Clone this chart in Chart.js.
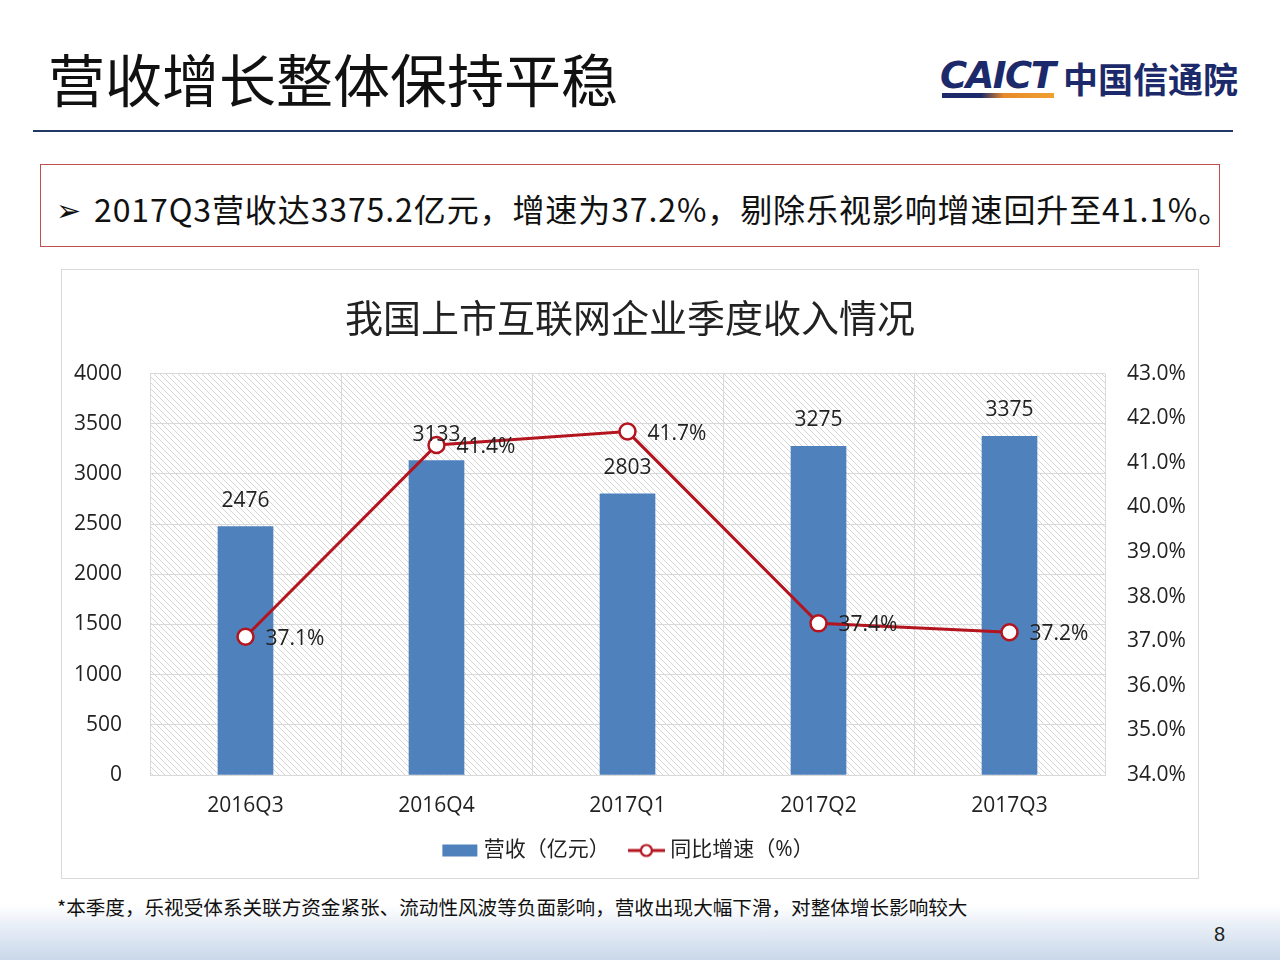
<!DOCTYPE html>
<html><head><meta charset="utf-8">
<script src="https://cdn.jsdelivr.net/npm/chart.js@4"></script>
<style>
html,body{margin:0;padding:0;width:1280px;height:960px;overflow:hidden;background:#fff;font-family:"Noto Sans CJK SC","Noto Sans",sans-serif;}
#page{position:relative;width:1280px;height:960px;background:linear-gradient(to bottom,#fff 0px,#fff 905px,#e9eff7 925px,#c9d8ea 960px);}
.abs{position:absolute;white-space:nowrap;}
#title{left:48px;top:37px;font-size:57px;color:#111;line-height:80px;}
#rule{left:33px;top:130px;width:1200px;height:2px;background:#1F3864;}
#logo1{left:940px;top:54px;font-family:"DejaVu Sans",sans-serif;font-weight:bold;font-style:italic;font-size:37px;color:#1c2a6b;letter-spacing:-1.5px;line-height:44px;}
#logoBar{left:942px;top:93px;width:112px;height:5px;background:linear-gradient(to right,#1c2a6b 0%,#1c2a6b 35%,#e8892a 55%,#f0a030 100%);}
#logo2{left:1063px;top:53px;font-size:35px;font-weight:bold;color:#1c2a6b;line-height:50px;}
#box{left:40px;top:164px;width:1178px;height:81px;border:1.5px solid #c0504d;}
#arrow{left:56px;top:185px;font-size:30px;color:#111;line-height:46px;}
#boxtxt{left:94px;top:185px;font-size:32px;color:#111;line-height:46px;letter-spacing:0.9px;}
#chartWrap{left:61px;top:269px;width:1136px;height:608px;border:1px solid #d9d9d9;}
#note{left:57px;top:893px;font-size:19.6px;color:#111;line-height:28px;}
#pnum{left:1214px;top:920px;font-size:20px;color:#222;line-height:28px;font-family:"Liberation Sans Narrow","Liberation Sans",sans-serif;}
</style></head>
<body><div id="page">
<div class="abs" id="title">营收增长整体保持平稳</div>
<div class="abs" id="logo1">CAICT</div>
<div class="abs" id="logoBar"></div>
<div class="abs" id="logo2">中国信通院</div>
<div class="abs" id="rule"></div>
<div class="abs" id="box"></div>
<div class="abs" id="arrow">➢</div>
<div class="abs" id="boxtxt">2017Q3营收达3375.2亿元，增速为37.2%，剔除乐视影响增速回升至41.1%。</div>
<div class="abs" id="chartWrap"><canvas id="c" width="1136" height="608"></canvas></div>
<div class="abs" id="note">*本季度，乐视受体系关联方资金紧张、流动性风波等负面影响，营收出现大幅下滑，对整体增长影响较大</div>
<div class="abs" id="pnum">8</div>
</div>
<script>
const categories = ["2016Q3","2016Q4","2017Q1","2017Q2","2017Q3"];
const revenue = [2476, 3133, 2803, 3275, 3375];
const growth = [37.1, 41.4, 41.7, 37.4, 37.2];
const revenueLabel = "营收（亿元）";
const growthLabel = "同比增速（%）";
const chartTitle = "我国上市互联网企业季度收入情况";

const BLUE = "#4F81BD", RED = "#B4141E";
const FONT = '"Open Sans","Noto Sans CJK SC",sans-serif';

// hatch pattern
const pc = document.createElement('canvas'); pc.width = 6; pc.height = 6;
const px = pc.getContext('2d');
px.fillStyle = '#fff'; px.fillRect(0,0,6,6);
px.strokeStyle = '#d6d6d6'; px.lineWidth = 1;
px.beginPath(); px.moveTo(-1,-1); px.lineTo(7,7); px.moveTo(-1,5); px.lineTo(1,7); px.moveTo(5,-1); px.lineTo(7,1); px.stroke();

// legend swatches
function swatch(kind){
  const c = document.createElement('canvas'); c.width = 37; c.height = 16;
  const g = c.getContext('2d');
  if (kind === 'bar') { g.fillStyle = BLUE; g.fillRect(1,2,35,12); }
  else {
    g.strokeStyle = RED; g.lineWidth = 3; g.beginPath(); g.moveTo(0,8); g.lineTo(37,8); g.stroke();
    g.fillStyle = '#fff'; g.lineWidth = 2.2; g.beginPath(); g.arc(18.5,8,5.5,0,Math.PI*2); g.fill(); g.stroke();
  }
  return c;
}
const swBar = swatch('bar'), swLine = swatch('line');

const bgPlugin = {
  id: 'bg',
  beforeDraw(chart){
    const {ctx, chartArea:a} = chart;
    ctx.save(); ctx.fillStyle = ctx.createPattern(pc,'repeat');
    ctx.fillRect(a.left,a.top,a.right-a.left,a.bottom-a.top); ctx.restore();
  }
};
const labelPlugin = {
  id: 'vals',
  afterDatasetsDraw(chart){
    const ctx = chart.ctx;
    ctx.save();
    ctx.font = '21px ' + FONT; ctx.fillStyle = '#222'; ctx.textBaseline = 'middle';
    chart.getDatasetMeta(0).data.forEach((el,i)=>{
      ctx.textAlign = 'center';
      ctx.fillText(String(revenue[i]), el.x, el.y - 26);
    });
    chart.getDatasetMeta(1).data.forEach((el,i)=>{
      ctx.textAlign = 'left';
      ctx.fillText(growth[i].toFixed(1) + '%', el.x + 20, el.y + 2);
    });
    ctx.restore();
  }
};

new Chart(document.getElementById('c'), {
  data: {
    labels: categories,
    datasets: [
      { type:'bar', label: revenueLabel, data: revenue, backgroundColor: BLUE, barThickness: 55, yAxisID:'y', order: 2 },
      { type:'line', label: growthLabel, data: growth, borderColor: RED, borderWidth: 3, pointRadius: 8, pointBorderWidth: 2.5,
        pointBackgroundColor:'#fff', pointBorderColor: RED, yAxisID:'y1', order: 1, tension: 0 }
    ]
  },
  options: {
    responsive:false, animation:false,
    layout:{ padding:{ left:0, right:0, top:0, bottom:7 } },
    plugins:{
      title:{ display:true, text: chartTitle, color:'#222', font:{ family: FONT, size:38, weight:'normal' }, padding:{ top:28, bottom:30 } },
      legend:{ position:'bottom', labels:{ usePointStyle:true, pointStyleWidth:27, color:'#222', padding:23,
        font:{ family: FONT, size:21 },
        generateLabels(chart){
          return chart.data.datasets.map((d,i)=>({ text:d.label, datasetIndex:i, pointStyle: i===0?swBar:swLine,
            fillStyle:'transparent', strokeStyle:'transparent', lineWidth:0, fontColor:'#222', hidden:false }));
        } } },
      tooltip:{ enabled:false }
    },
    scales:{
      x:{ grid:{ color:'#d9d9d9', drawTicks:false, offset:true }, border:{ color:'#d9d9d9' },
          ticks:{ color:'#222', padding:21, font:{ family: FONT, size:21, lineHeight:1 } },
          afterFit(s){ s.height = 42; } },
      y:{ position:'left', min:0, max:4000, grid:{ color:'#d9d9d9', drawTicks:false }, border:{ display:false },
          ticks:{ stepSize:500, color:'#222', padding:28, font:{ family: FONT, size:21 }, callback:v=>String(v) },
          afterFit(s){ s.width = 88; } },
      y1:{ position:'right', min:34, max:43, grid:{ display:false, drawTicks:false }, border:{ display:false },
          ticks:{ stepSize:1, color:'#222', padding:22, font:{ family: FONT, size:21 }, callback:v=>v.toFixed(1)+'%' },
          afterFit(s){ s.width = 93; } }
    }
  },
  plugins:[bgPlugin, labelPlugin]
});
</script>
</body></html>
